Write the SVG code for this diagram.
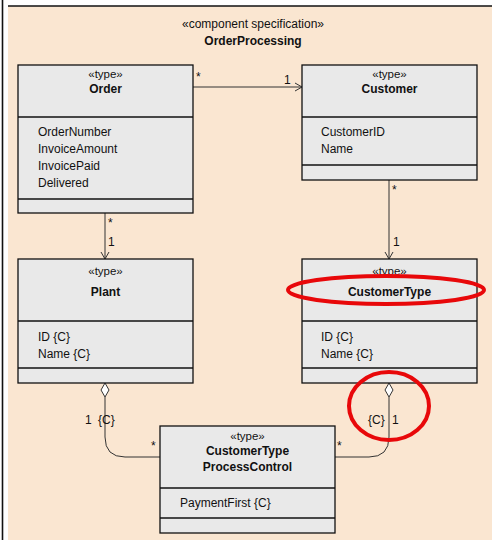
<svg xmlns="http://www.w3.org/2000/svg" width="492" height="540" viewBox="0 0 492 540">
<defs>
<style>
text{font-family:"Liberation Sans",Arial,sans-serif;font-size:12px;fill:#111}
.s{font-size:11.5px}
.b{font-weight:bold}
.c{text-anchor:middle}
.box{fill:#e9e9e9;stroke:#111;stroke-width:1.3}
.sep{stroke:#111;stroke-width:1.3}
.con{fill:none;stroke:#333;stroke-width:1}
.hl{fill:none;stroke:#e8080a;stroke-width:4}
</style>
<marker id="arr" markerWidth="10" markerHeight="10" refX="8" refY="5" orient="auto" markerUnits="userSpaceOnUse">
<path d="M1,1 L8,5 L1,9" fill="none" stroke="#333" stroke-width="1"/>
</marker>
</defs>
<rect x="0" y="0" width="492" height="540" fill="#fff"/>
<rect x="8" y="6" width="484" height="534" fill="#fae6d1"/>
<line x1="8" y1="6" x2="492" y2="6" stroke="#111" stroke-width="1.5"/>
<line x1="2.5" y1="0" x2="2.5" y2="540" stroke="#111" stroke-width="1.6"/>
<text class="c" x="253" y="28">«component specification»</text>
<text class="c b" x="253" y="45">OrderProcessing</text>

<g id="connectors">
<line class="con" x1="193" y1="87" x2="302" y2="87" marker-end="url(#arr)"/>
<line class="con" x1="105" y1="213" x2="105" y2="259" marker-end="url(#arr)"/>
<line class="con" x1="389" y1="180" x2="389" y2="259" marker-end="url(#arr)"/>
<path class="con" d="M105,397 V437 Q105,457 125,457 H160"/>
<path d="M105,383 L109,390 L105,397 L101,390 Z" fill="#fff" stroke="#333" stroke-width="1"/>
<path class="con" d="M389,397 V437 Q389,457 369,457 H335"/>
<path d="M389,383 L393,390 L389,397 L385,390 Z" fill="#fff" stroke="#333" stroke-width="1"/>
<text x="196" y="81">*</text>
<text x="284" y="84">1</text>
<text x="108" y="227">*</text>
<text x="108" y="246">1</text>
<text x="392" y="194">*</text>
<text x="393" y="246">1</text>
<text x="85" y="424">1</text>
<text x="98" y="424">{C}</text>
<text x="151" y="450">*</text>
<text x="368" y="424">{C}</text>
<text x="392" y="424">1</text>
<text x="337" y="450">*</text>
</g>

<g id="order">
<rect class="box" x="18" y="65" width="175" height="148"/>
<line class="sep" x1="18" y1="117" x2="193" y2="117"/>
<line class="sep" x1="18" y1="199" x2="193" y2="199"/>
<text class="c s" x="105.5" y="78">«type»</text>
<text class="c b" x="105.5" y="93">Order</text>
<text x="38" y="136">OrderNumber</text>
<text x="38" y="153">InvoiceAmount</text>
<text x="38" y="170">InvoicePaid</text>
<text x="38" y="187">Delivered</text>
</g>

<g id="customer">
<rect class="box" x="302" y="65" width="175" height="115"/>
<line class="sep" x1="302" y1="117" x2="477" y2="117"/>
<line class="sep" x1="302" y1="165" x2="477" y2="165"/>
<text class="c s" x="389.5" y="78">«type»</text>
<text class="c b" x="389.5" y="93">Customer</text>
<text x="321" y="136">CustomerID</text>
<text x="321" y="153">Name</text>
</g>

<g id="plant">
<rect class="box" x="18" y="259" width="175" height="124"/>
<line class="sep" x1="18" y1="321" x2="193" y2="321"/>
<line class="sep" x1="18" y1="368" x2="193" y2="368"/>
<text class="c s" x="105.5" y="275">«type»</text>
<text class="c b" x="105.5" y="296">Plant</text>
<text x="38" y="341">ID {C}</text>
<text x="38" y="358">Name {C}</text>
</g>

<g id="customertype">
<rect class="box" x="302" y="259" width="175" height="124"/>
<line class="sep" x1="302" y1="321" x2="477" y2="321"/>
<line class="sep" x1="302" y1="368" x2="477" y2="368"/>
<text class="c s" x="389.5" y="275">«type»</text>
<text class="c b" x="389.5" y="296">CustomerType</text>
<text x="321" y="341">ID {C}</text>
<text x="321" y="358">Name {C}</text>
</g>

<g id="ctpc">
<rect class="box" x="160" y="426" width="175" height="107"/>
<line class="sep" x1="160" y1="488" x2="335" y2="488"/>
<line class="sep" x1="160" y1="518" x2="335" y2="518"/>
<text class="c s" x="247.5" y="440">«type»</text>
<text class="c b" x="247.5" y="455">CustomerType</text>
<text class="c b" x="247.5" y="471">ProcessControl</text>
<text x="180" y="507">PaymentFirst {C}</text>
</g>

<g id="highlights">
<ellipse class="hl" cx="386" cy="290" rx="98" ry="14"/>
<ellipse class="hl" cx="389" cy="406" rx="40" ry="34"/>
</g>
</svg>
